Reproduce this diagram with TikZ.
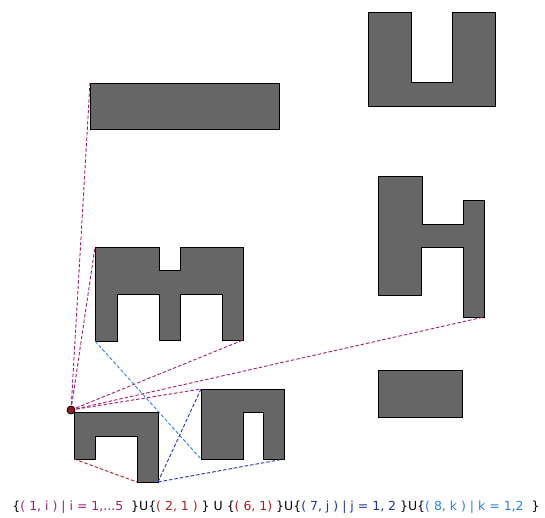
\documentclass[tikz,border=0pt]{standalone}
\usepackage{fontspec}
\usepackage{graphicx}
\setmainfont{DejaVu Sans}
\definecolor{cpurple}{RGB}{160,30,115}
\definecolor{cdred}{RGB}{175,30,35}
\definecolor{cdblue}{RGB}{30,50,170}
\definecolor{clblue}{RGB}{40,130,240}
\definecolor{cgray}{RGB}{102,102,102}
\tikzset{
  blockshape/.style={fill=cgray,draw=black,line width=0.9pt,line join=miter},
  conn/.style={line width=0.9pt,dash pattern=on 3.5pt off 2pt},
}
\begin{document}
\begin{tikzpicture}[x=1pt,y=-1pt]
\useasboundingbox (0,0) rectangle (545,517);
% top right U
\draw[blockshape] (368,12) -- (411,12) -- (411,82) -- (452,82) -- (452,12) -- (495,12) -- (495,106) -- (368,106) -- cycle;
% top-left rectangle
\draw[blockshape] (90,83) coordinate (r1) rectangle (279,129);
% E shape
\draw[blockshape] (95,247) coordinate (e1) -- (159,247) -- (159,270) -- (180,270) -- (180,247) -- (243,247) -- (243,340) coordinate (e2) -- (222,340) -- (222,294) -- (180,294) -- (180,340) -- (159,340) -- (159,294) -- (117,294) -- (117,341) -- (95,341) coordinate (e3) -- cycle;
% H shape
\draw[blockshape] (378,176) -- (422,176) -- (422,224) -- (463,224) -- (463,200) -- (484,200) -- (484,317) coordinate (h1) -- (463,317) -- (463,247) -- (421,247) -- (421,295) -- (378,295) -- cycle;
% bottom right rectangle
\draw[blockshape] (378,370) rectangle (462,417);
% bottom left shape
\draw[blockshape] (74,412) -- (158,412) -- (158,482) coordinate (b2) -- (137,482) coordinate (b3) -- (137,436) -- (95,436) -- (95,459) -- (74,459) coordinate (b1) -- cycle;
% bottom middle shape
\draw[blockshape] (201,389) coordinate (m1) -- (284,389) -- (284,459) coordinate (m3) -- (263,459) -- (263,412) -- (243,412) -- (243,459) -- (201,459) coordinate (m2) -- cycle;
% dot
\coordinate (d) at (71,410);
% connectors
\draw[conn,cpurple] (d) -- (r1);
\draw[conn,cpurple] (d) -- (e1);
\draw[conn,cpurple] (d) -- (e2);
\draw[conn,cpurple] (d) -- (h1);
\draw[conn,cpurple] (d) -- (m1);
\draw[conn,clblue] (e3) -- (m2);
\draw[conn,cdblue] (b2) -- (m1);
\draw[conn,cdblue] (b2) -- (m3);
\draw[conn,cdred] (b1) -- (b3);
\node[circle,fill=cdred!85!black,draw=black,line width=0.8pt,inner sep=0pt,minimum size=8pt] (dot) at (d) {};
% label
\node[anchor=center,inner sep=0pt] (lbl) at (276,507) {\resizebox{527pt}{!}{\fontsize{12}{14}\selectfont\{\textcolor{cpurple}{( 1, i ) | i = 1,...5}\ \ \}U\{\textcolor{cdred}{( 2, 1 )} \} U \{\textcolor{cdred}{( 6, 1)} \}U\{\textcolor{cdblue}{( 7, j ) | j = 1, 2} \}U\{\textcolor{clblue}{( 8, k ) | k = 1,2}\ \ \}}};
\end{tikzpicture}
\end{document}
